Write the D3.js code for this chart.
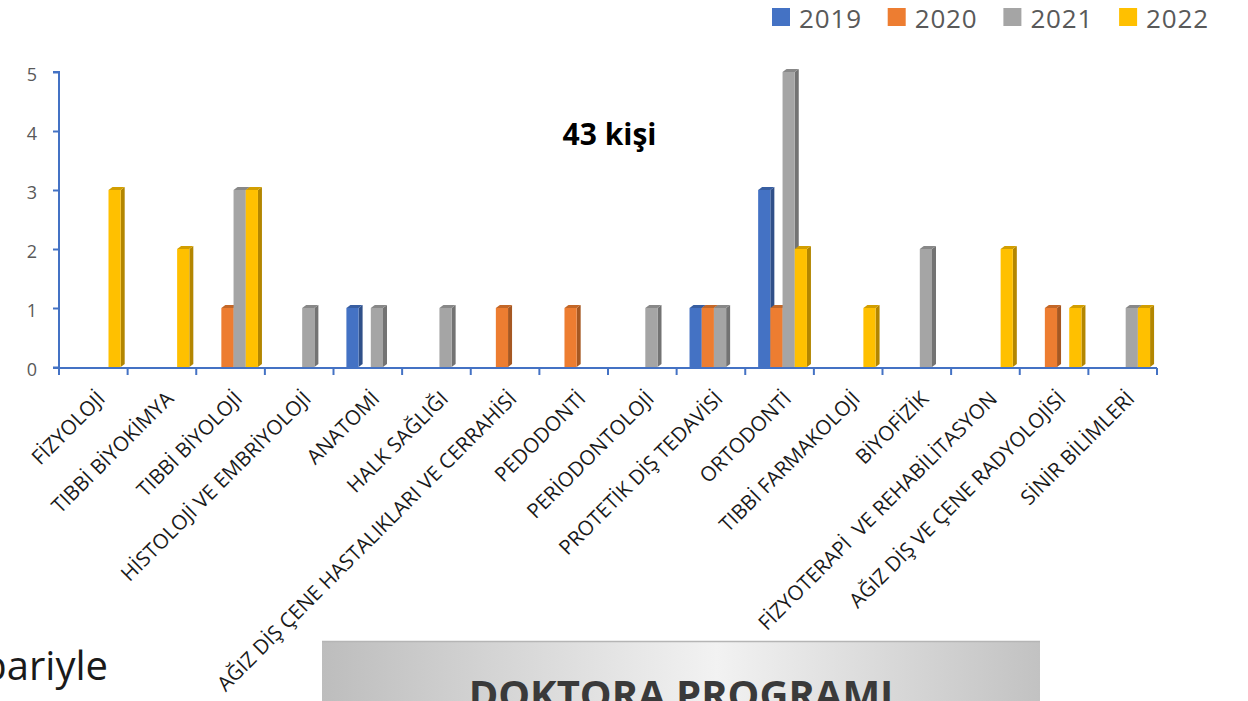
<!DOCTYPE html>
<html><head><meta charset="utf-8">
<script src="https://cdn.jsdelivr.net/npm/d3@7"></script>
<style>html,body{margin:0;padding:0;background:#fff;overflow:hidden}</style>
</head><body>
<svg id="c" width="1248" height="701"></svg>
<script>
const categories = ["FİZYOLOJİ","TIBBİ BİYOKİMYA","TIBBİ BİYOLOJİ","HİSTOLOJİ VE EMBRİYOLOJİ","ANATOMİ","HALK SAĞLIĞI","AĞIZ DİŞ ÇENE HASTALIKLARI VE CERRAHİSİ","PEDODONTİ","PERİODONTOLOJİ","PROTETİK DİŞ TEDAVİSİ","ORTODONTİ","TIBBİ FARMAKOLOJİ","BİYOFİZİK","FİZYOTERAPİ  VE REHABİLİTASYON","AĞIZ DİŞ VE ÇENE RADYOLOJİSİ","SİNİR BİLİMLERİ"];
const seriesNames = ["2019","2020","2021","2022"];
const v2019 = [0,0,0,0,1,0,0,0,0,1,3,0,0,0,0,0];
const v2020 = [0,0,1,0,0,0,1,1,0,1,1,0,0,0,1,0];
const v2021 = [0,0,3,1,1,1,0,0,1,1,5,0,2,0,0,1];
const v2022 = [3,2,3,0,0,0,0,0,0,0,2,1,0,2,1,1];
const yTicks = [0,1,2,3,4,5];
const colors = ["#4472C4","#ED7D31","#A5A5A5","#FFC000"];
const totalLabel = "43 kişi";
const footLeft = "itibariyle";
const footTitle = "DOKTORA PROGRAMI";

const values = [v2019,v2020,v2021,v2022];
const svg = d3.select("#c");
const font = "'Open Sans', sans-serif";
const axisColor = "#4472C4";

const x = d3.scaleBand().domain(categories).range([59,1157]).padding(0);
const xs = d3.scaleBand().domain(seriesNames).range([12.9, 61.7]).padding(0);
const y = d3.scaleLinear().domain([0,5]).range([367,72]);
const depthX = 4, depthY = -3;

// bars
const gBars = svg.append("g");
categories.forEach((cat,i)=>{
  seriesNames.forEach((s,j)=>{
    const v = values[j][i];
    if(!v) return;
    const x0 = x(cat)+xs(s), w = xs.bandwidth();
    const x1 = x0+w, yt = y(v), yb = y(0);
    const base = d3.color(colors[j]);
    const side = base.darker(1.0).formatHex();
    const top = base.darker(0.55).formatHex();
    gBars.append("path").attr("d",`M${x1},${yb} L${x1+depthX},${yb+depthY} L${x1+depthX},${yt+depthY} L${x1},${yt} Z`).attr("fill",side);
    gBars.append("rect").attr("x",x0).attr("y",yt).attr("width",w).attr("height",yb-yt).attr("fill",colors[j]);
    gBars.append("path").attr("d",`M${x0},${yt} L${x1},${yt} L${x1+depthX},${yt+depthY} L${x0+depthX},${yt+depthY} Z`).attr("fill",top);
  });
});

// y axis
const gy = svg.append("g").attr("transform","translate(59,0)")
  .call(d3.axisLeft(y).tickValues(yTicks).tickSize(6).tickFormat(d3.format("d")));
gy.select(".domain").attr("stroke",axisColor).attr("stroke-width",2).attr("d",`M-6,${y(5)}H0V${y(0)+1}`);
gy.selectAll(".tick line").attr("stroke",axisColor).attr("stroke-width",2);
gy.selectAll(".tick text").attr("x",-22).attr("dy","0.47em").attr("fill","#595959")
  .style("font-family",font).style("font-size","18px").attr("text-anchor","end");

// x axis
const gx = svg.append("g").attr("transform",`translate(0,${y(0)+1})`);
gx.append("line").attr("x1",53).attr("x2",1157).attr("y1",0).attr("y2",0).attr("stroke",axisColor).attr("stroke-width",2);
const edges = categories.map(c=>x(c)).concat([x.range()[1]]);
gx.selectAll("line.t").data(edges).enter().append("line").attr("class","t")
  .attr("x1",d=>d).attr("x2",d=>d).attr("y1",0).attr("y2",7).attr("stroke",axisColor).attr("stroke-width",2);
gx.selectAll("text.lab").data(categories).enter().append("text").attr("class","lab")
  .attr("transform",d=>`translate(${x(d)+x.bandwidth()/2+13},${32}) rotate(-45)`)
  .attr("text-anchor","end").attr("fill","#1a1a1a")
  .style("font-family",font).style("font-size","20.5px").style("white-space","pre")
  .text(d=>d);

// legend
const lg = svg.append("g");
seriesNames.forEach((s,j)=>{
  const lx = 772 + j*115.7;
  lg.append("rect").attr("x",lx).attr("y",8).attr("width",18).attr("height",18).attr("fill",colors[j]);
  lg.append("text").attr("x",lx+27).attr("y",28).attr("fill","#595959")
    .style("font-family",font).style("font-size","26px").attr("textLength",62).text(s);
});

// total label
svg.append("text").attr("x",609.5).attr("y",145).attr("text-anchor","middle")
  .style("font-family",font).style("font-size","30px").style("font-weight","bold").attr("fill","#000").text(totalLabel);

// footer
svg.append("text").attr("x",108).attr("y",680).attr("text-anchor","end")
  .style("font-family",font).style("font-size","40px").attr("fill","#1a1a1a").text(footLeft);
const defs = svg.append("defs");
const grad = defs.append("linearGradient").attr("id","gb").attr("x1","0").attr("x2","1").attr("y1","0").attr("y2","0");
grad.append("stop").attr("offset","0%").attr("stop-color","#bdbdbd");
grad.append("stop").attr("offset","55%").attr("stop-color","#f2f2f2");
grad.append("stop").attr("offset","100%").attr("stop-color","#c2c2c2");
svg.append("rect").attr("x",322).attr("y",641).attr("width",718).attr("height",70).attr("fill","url(#gb)");
svg.append("line").attr("x1",322).attr("x2",1040).attr("y1",641.5).attr("y2",641.5).attr("stroke","#b5b5b5").attr("stroke-width",1.5);
svg.append("text").attr("x",681).attr("y",709).attr("text-anchor","middle")
  .style("font-family",font).style("font-size","40px").style("font-weight","bold").attr("fill","#3a3a3a").text(footTitle);
</script>
</body></html>
